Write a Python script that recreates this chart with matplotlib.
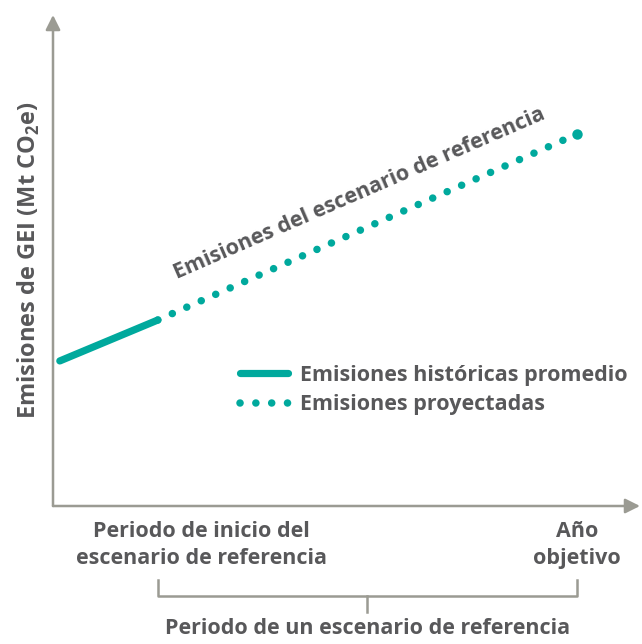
import matplotlib.pyplot as plt

# periodos conceptuales (eje x) y emisiones (eje y)
x_hist = [0.13, 2.0]
y_hist = [3.9, 5.0]
x_proj = [2.0, 10.0]
y_proj = [5.0, 10.0]

periodo_inicio = 2.0
anio_objetivo = 10.0

TEAL = '#00a99d'
GRIS = '#9b9b93'
TEXTO = '#58585a'
FUENTE = ['Open Sans', 'DejaVu Sans']
TAM = 15.5

plt.rcParams['font.family'] = FUENTE

fig = plt.figure(figsize=(6.42, 6.44), dpi=100)
ax = fig.add_axes([53 / 642, 138 / 644, 587 / 642, 491 / 644])
ax.set_xlim(0, 11.2)
ax.set_ylim(0, 13.2)
for s in ax.spines.values():
    s.set_visible(False)
ax.set_xticks([])
ax.set_yticks([])

# ejes con flecha
ax.annotate('', xy=(0, 1), xytext=(0, 0), xycoords='axes fraction',
            arrowprops=dict(arrowstyle='-|>', color=GRIS, lw=1.8, mutation_scale=22, shrinkA=0, shrinkB=0))
ax.annotate('', xy=(1, 0), xytext=(0, 0), xycoords='axes fraction',
            arrowprops=dict(arrowstyle='-|>', color=GRIS, lw=1.8, mutation_scale=22, shrinkA=0, shrinkB=0))

ax.plot(x_hist, y_hist, color=TEAL, lw=5.2, solid_capstyle='round',
        label='Emisiones históricas promedio')
ax.plot(x_proj, y_proj, color=TEAL, lw=5.4, linestyle=(0, (0.01, 2.1)),
        dash_capstyle='round', label='Emisiones proyectadas')
# punto final de la proyeccion
ax.plot(x_proj[-1], y_proj[-1], 'o', color=TEAL, ms=7.5, mew=0)

ax.text(5.85, 8.4, 'Emisiones del escenario de referencia', rotation=23.5,
        ha='center', va='center', fontsize=TAM, fontweight='bold', color=TEXTO,
        rotation_mode='anchor')

leg = ax.legend(loc='upper left', bbox_to_anchor=(0.318, 0.288), frameon=False,
                borderpad=0, borderaxespad=0,
                handlelength=2.25, handletextpad=0.55, labelspacing=0.4,
                prop=dict(family=FUENTE, weight='bold', size=TAM))
for t in leg.get_texts():
    t.set_color(TEXTO)

ax.set_ylabel(r'Emisiones de GEI (Mt CO$_\mathregular{2}$e)', fontsize=17,
              fontweight='bold', color=TEXTO, labelpad=8)

# etiquetas bajo el eje x
ax.text(2.84, -0.4, 'Periodo de inicio del\nescenario de referencia',
        ha='center', va='top', fontsize=TAM, fontweight='bold', color=TEXTO,
        linespacing=1.4)
ax.text(anio_objetivo, -0.4, 'Año\nobjetivo', ha='center', va='top',
        fontsize=TAM, fontweight='bold', color=TEXTO, linespacing=1.4)

# llave del periodo
yb_top, yb = -1.98, -2.41
medio = (periodo_inicio + anio_objetivo) / 2
ax.plot([periodo_inicio, periodo_inicio, anio_objetivo, anio_objetivo],
        [yb_top, yb, yb, yb_top], color=GRIS, lw=1.8, clip_on=False)
ax.plot([medio, medio], [yb, -2.84], color=GRIS, lw=1.8, clip_on=False)
ax.text(medio, -3.02, 'Periodo de un escenario de referencia', ha='center', va='top',
        fontsize=TAM, fontweight='bold', color=TEXTO)

fig.savefig('out.png', dpi=100)
